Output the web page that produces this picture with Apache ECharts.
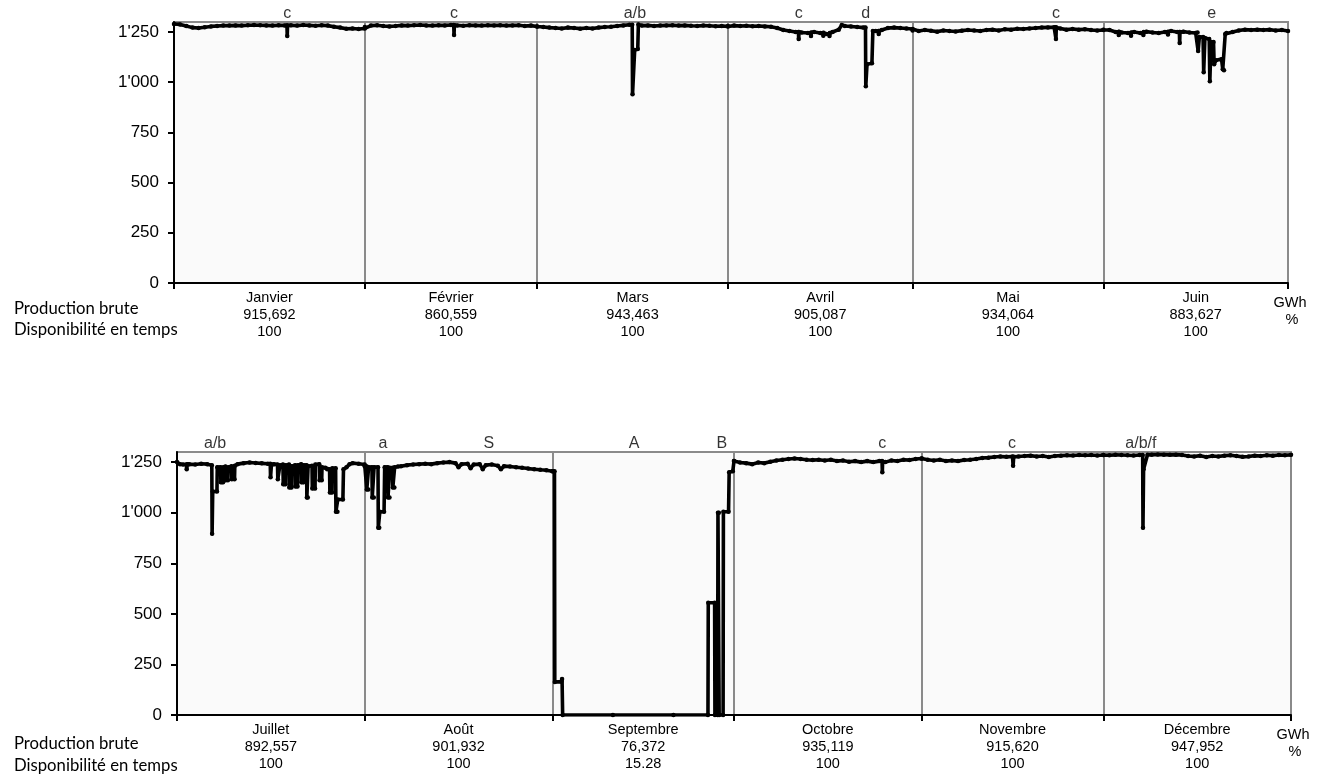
<!DOCTYPE html>
<html>
<head>
<meta charset="utf-8">
<script src="https://cdn.jsdelivr.net/npm/echarts@6/dist/echarts.min.js"></script>
<style>
html,body{margin:0;padding:0;background:#fff;}
#chart{width:1322px;height:776px;}
</style>
</head>
<body>
<div id="chart"></div>
<script>
// ---------- DATA ----------
const monthsTop = ['Janvier','Février','Mars','Avril','Mai','Juin'];
const monthsBottom = ['Juillet','Août','Septembre','Octobre','Novembre','Décembre'];
const daysTop = [31,28,31,30,31,30];
const daysBottom = [31,31,30,31,30,31];
const prodTop = ['915,692','860,559','943,463','905,087','934,064','883,627'];
const prodBottom = ['892,557','901,932','76,372','935,119','915,620','947,952'];
const availTop = ['100','100','100','100','100','100'];
const availBottom = ['100','100','15.28','100','100','100'];
const yTicks = [0,250,500,750,1000,1250];

// power (MW) per month: [day of month (fractional), value]
const jan = [[0,1290],[1,1288],[2,1280],[3,1272],[4,1270],[5,1274],[6,1278],[7,1280],[8,1282],[9,1282],[10,1283],[11,1282],[12,1284],[13,1285],[14,1284],[15,1283],[16,1282],[17,1284],[18,1283],[18.35,1283],[18.4,1230],[18.45,1283],[19,1284],[20,1282],[21,1285],[22,1283],[23,1281],[24,1284],[25,1282],[26,1276],[27,1272],[28,1266],[29,1268],[30,1265],[31,1268]];
const feb = [[0,1275],[1,1282],[2,1284],[3,1280],[4,1278],[5,1280],[6,1283],[7,1282],[8,1284],[9,1285],[10,1283],[11,1282],[12,1284],[13,1283],[14,1285],[14.45,1285],[14.5,1235],[14.55,1284],[15,1283],[16,1281],[17,1284],[18,1283],[19,1282],[20,1284],[21,1283],[22,1284],[23,1282],[24,1283],[25,1284],[26,1280],[27,1282],[28,1278]];
const mar = [[0,1278],[1,1275],[2,1272],[3,1270],[4,1268],[5,1272],[6,1270],[7,1267],[8,1270],[9,1268],[10,1272],[11,1275],[12,1276],[13,1280],[14,1283],[15,1286],[15.45,1286],[15.5,940],[15.85,1160],[16.35,1165],[16.45,1288],[17,1282],[18,1283],[19,1280],[20,1282],[21,1283],[22,1284],[23,1282],[24,1283],[25,1281],[26,1280],[27,1282],[28,1281],[29,1279],[30,1280],[31,1278]];
const apr = [[0,1280],[1,1282],[2,1280],[3,1281],[4,1279],[5,1280],[6,1278],[7,1276],[8,1270],[9,1260],[10,1255],[11,1250],[11.45,1250],[11.5,1215],[11.55,1250],[12,1248],[13,1245],[13.45,1245],[13.5,1230],[13.55,1248],[14,1250],[15,1245],[15.45,1245],[15.5,1232],[15.55,1246],[16,1240],[16.45,1240],[16.5,1230],[16.55,1245],[17,1250],[18,1262],[18.5,1285],[19,1280],[20,1278],[21,1275],[22,1272],[22.35,1272],[22.4,980],[22.6,1090],[23.4,1095],[23.55,1255],[24,1255],[24.45,1255],[24.5,1240],[24.55,1255],[25,1260],[26,1270],[27,1272],[28,1270],[29,1268],[30,1265]];
const may = [[0,1258],[1,1255],[2,1260],[3,1256],[4,1252],[5,1258],[6,1255],[7,1253],[8,1257],[9,1260],[10,1258],[11,1255],[12,1260],[13,1262],[14,1258],[15,1264],[16,1262],[17,1266],[18,1265],[19,1268],[20,1270],[21,1272],[22,1273],[23,1274],[23.25,1274],[23.3,1215],[23.35,1272],[24,1268],[25,1262],[26,1265],[27,1262],[28,1264],[29,1260],[30,1258],[31,1260]];
const jun = [[0,1262],[1,1260],[2,1250],[2.45,1250],[2.5,1235],[2.55,1252],[3,1248],[4,1245],[4.45,1245],[4.5,1232],[4.55,1248],[5,1250],[6,1245],[6.45,1245],[6.5,1235],[6.55,1250],[7,1252],[8,1248],[9,1245],[10,1250],[10.45,1250],[10.5,1238],[10.55,1252],[11,1255],[12,1250],[12.35,1250],[12.4,1195],[12.45,1250],[13,1252],[14,1248],[15,1245],[15.3,1248],[15.4,1155],[15.6,1225],[16.2,1225],[16.3,1050],[16.5,1220],[17.2,1215],[17.3,1005],[17.5,1200],[17.9,1200],[18.0,1090],[18.3,1110],[19.2,1115],[19.4,1065],[19.6,1060],[19.8,1240],[20,1245],[21,1250],[22,1258],[23,1262],[24,1260],[25,1262],[26,1260],[27,1262],[28,1258],[29,1260],[30,1255]];

const jul = [[0,1250],[0.5,1240],[1,1238],[1.55,1238],[1.6,1215],[1.7,1240],[2,1240],[3,1238],[4,1242],[5,1240],[5.75,1235],[5.8,896],[5.9,1105],[6.6,1105],[6.65,1225],[7.2,1225],[7.25,1150],[7.6,1150],[7.65,1225],[8,1228],[8.05,1160],[8.4,1160],[8.45,1225],[9,1230],[9.05,1165],[9.5,1165],[9.55,1232],[10,1240],[11,1245],[12,1248],[13,1246],[14,1244],[15,1242],[15.4,1242],[15.45,1175],[15.6,1238],[16,1240],[16.6,1238],[16.65,1165],[17,1235],[17.5,1238],[17.55,1140],[17.9,1140],[17.95,1235],[18.5,1238],[18.55,1125],[18.9,1125],[18.95,1230],[19.5,1235],[19.55,1130],[19.9,1130],[19.95,1235],[20.5,1240],[20.55,1150],[20.9,1150],[20.95,1235],[21.4,1235],[21.45,1075],[21.6,1075],[21.65,1230],[22.3,1232],[22.35,1120],[22.8,1120],[22.85,1238],[23.5,1240],[23.55,1160],[23.9,1160],[23.95,1225],[24.5,1222],[24.8,1215],[25.2,1215],[25.25,1100],[25.6,1100],[25.65,1220],[26.2,1220],[26.25,1005],[26.5,1005],[26.55,1065],[27.4,1065],[27.5,1215],[28,1225],[28.5,1240],[29,1245],[30,1242],[31,1238]];
const aug = [[0,1230],[0.3,1230],[0.35,1115],[0.6,1115],[0.65,1225],[1.2,1225],[1.25,1075],[1.5,1075],[1.55,1225],[2.2,1225],[2.25,925],[2.4,925],[2.5,1005],[3.2,1005],[3.3,1225],[3.8,1225],[3.85,1075],[4.1,1075],[4.15,1222],[4.6,1222],[4.65,1125],[4.9,1125],[4.95,1225],[5.5,1228],[6,1230],[7,1235],[8,1238],[9,1240],[10,1242],[11,1240],[12,1245],[13,1248],[14,1250],[15,1245],[15.5,1225],[16,1240],[17,1242],[17.5,1220],[18,1238],[19,1240],[19.5,1215],[20,1235],[21,1238],[22,1232],[22.5,1215],[23,1230],[24,1228],[25,1225],[26,1222],[27,1218],[28,1215],[29,1212],[30,1210],[31,1205]];
const sep = [[0,1205],[0.35,1205],[0.4,163],[1.5,165],[1.6,178],[1.7,0],[10,0],[20,0],[25.7,0],[25.75,555],[26.8,555],[26.85,0],[27.3,0],[27.35,1000],[27.5,1000],[27.55,0],[28.2,0],[28.25,1005],[29.1,1005],[29.2,1200],[29.8,1205],[30,1255]];
const oct = [[0,1255],[1,1248],[2,1245],[3,1240],[4,1248],[5,1245],[6,1252],[7,1258],[8,1262],[9,1265],[10,1268],[11,1265],[12,1262],[13,1260],[14,1262],[15,1258],[16,1262],[17,1255],[18,1258],[19,1252],[20,1255],[21,1250],[22,1255],[23,1250],[24,1255],[24.45,1255],[24.5,1200],[24.55,1252],[25,1250],[26,1258],[27,1255],[28,1262],[29,1260],[30,1265],[31,1268]];
const nov = [[0,1268],[1,1262],[2,1258],[3,1262],[4,1255],[5,1258],[6,1255],[7,1260],[8,1262],[9,1265],[10,1270],[11,1272],[12,1275],[13,1278],[14,1276],[15,1278],[15.1,1232],[15.2,1276],[16,1278],[17,1280],[18,1282],[19,1278],[20,1280],[21,1275],[22,1280],[23,1282],[24,1284],[25,1283],[26,1285],[27,1284],[28,1285],[29,1283],[30,1285]];
const dec = [[0,1285],[1,1284],[2,1286],[3,1285],[4,1284],[5,1283],[6,1285],[6.5,1285],[6.55,925],[6.65,1215],[7.3,1286],[8,1287],[9,1288],[10,1287],[11,1286],[12,1287],[13,1285],[14,1280],[15,1278],[16,1282],[17,1275],[18,1280],[19,1278],[20,1282],[21,1284],[22,1280],[23,1276],[24,1278],[25,1282],[26,1280],[27,1284],[28,1282],[29,1285],[30,1284],[31,1286]];

// event annotations: position (day within half-year) and code
const annoTopDays = [18.4, 45.5, 74.9, 101.5, 112.4, 143.3, 168.6];
const annoTopLabels = ['c','c','a/b','c','d','c','e'];
const annoBottomDays = [6.3, 34.0, 51.5, 75.5, 90.0, 116.5, 137.9, 159.2];
const annoBottomLabels = ['a/b','a','S','A','B','c','c','a/b/f'];

// ---------- BUILD ----------
function cum(days){ const b=[0]; days.forEach(d=>b.push(b[b.length-1]+d)); return b; }
function buildPts(monthArrs, days){
  const b = cum(days); const out=[];
  monthArrs.forEach((arr,i)=>arr.forEach(p=>out.push([b[i]+p[0], p[1]])));
  return out;
}
function fmtY(v){ return v>=1000 ? Math.floor(v/1000)+"'"+String(v%1000).padStart(3,'0') : String(v); }
const FONT = "'Liberation Sans', Arial, sans-serif";

function mkX(gi, days, names, prod, avail){
  const b = cum(days);
  const mids = days.map((d,i)=>b[i]+d/2);
  return {
    type:'value', gridIndex:gi, min:0, max:b[b.length-1],
    axisLine:{show:true, onZero:false, lineStyle:{color:'#000', width:2}},
    axisTick:{show:true, customValues:b, length:6, lineStyle:{color:'#000', width:2}},
    splitLine:{show:true, lineStyle:{color:'#8a8a8a', width:2}},
    axisLabel:{
      customValues:mids, margin:6, interval:0,
      formatter:function(v){
        let i = 0, best = 1e9;
        mids.forEach((m,k)=>{ if(Math.abs(m-v)<best){best=Math.abs(m-v); i=k;} });
        return '{m|'+names[i]+'}\n{m|'+prod[i]+'}\n{m|'+avail[i]+'}';
      },
      rich:{m:{fontSize:14.5, lineHeight:17, fontFamily:FONT, color:'#000', align:'center'}}
    }
  };
}
function mkY(gi){
  return {
    type:'value', gridIndex:gi, min:0, max:1300,
    axisLine:{show:true, lineStyle:{color:'#000', width:2}},
    axisTick:{show:true, customValues:yTicks, length:6, lineStyle:{color:'#000', width:2}},
    axisLabel:{customValues:yTicks, formatter:fmtY, fontSize:17, fontFamily:FONT, color:'#000', margin:15},
    splitLine:{show:false}
  };
}
function mkAnno(gi, daysArr, labels){
  return {
    type:'scatter', xAxisIndex:gi, yAxisIndex:gi, symbolSize:0, silent:true, z:5,
    data: daysArr.map((d,i)=>({value:[d,1300], name:labels[i]})),
    label:{show:true, position:'top', distance:0, formatter:'{b}', fontSize:16, fontFamily:FONT, color:'#000'}
  };
}
function mkLine(gi, data){
  return {
    type:'line', xAxisIndex:gi, yAxisIndex:gi, data:data, z:4,
    showSymbol:true, symbol:'circle', symbolSize:4.5, showAllSymbol:true,
    itemStyle:{color:'#000', borderWidth:0},
    lineStyle:{color:'#000', width:3.6, cap:'round', join:'round'}
  };
}

const gridStyle = {show:true, backgroundColor:'#fafafa', borderColor:'#8a8a8a', borderWidth:2};
const sideLabel = (x,y,t)=>({type:'text', left:x, top:y, style:{text:t, fontSize:16.7, fontFamily:"Lato, 'Open Sans', sans-serif", fill:'#000'}});
const unitLabel = (x,y,t)=>({type:'text', x:x, y:y, style:{text:t, fontSize:14.5, fontFamily:FONT, fill:'#000', align:'center', verticalAlign:'middle'}});

const option = {
  animation:false,
  backgroundColor:'#fff',
  grid:[
    Object.assign({left:174, top:22, width:1114, height:261}, gridStyle),
    Object.assign({left:177, top:452, width:1114, height:263}, gridStyle)
  ],
  xAxis:[ mkX(0, daysTop, monthsTop, prodTop, availTop), mkX(1, daysBottom, monthsBottom, prodBottom, availBottom) ],
  yAxis:[ mkY(0), mkY(1) ],
  series:[
    mkLine(0, buildPts([jan,feb,mar,apr,may,jun], daysTop)),
    mkLine(1, buildPts([jul,aug,sep,oct,nov,dec], daysBottom)),
    mkAnno(0, annoTopDays, annoTopLabels),
    mkAnno(1, annoBottomDays, annoBottomLabels)
  ],
  graphic:[
    sideLabel(14, 300, 'Production brute'),
    sideLabel(14, 321, 'Disponibilité en temps'),
    sideLabel(14, 735, 'Production brute'),
    sideLabel(14, 757, 'Disponibilité en temps'),
    unitLabel(1290, 303, 'GWh'),
    unitLabel(1292, 320, '%'),
    unitLabel(1293, 735, 'GWh'),
    unitLabel(1295, 752, '%')
  ]
};
const chart = echarts.init(document.getElementById('chart'), null, {renderer:'canvas'});
chart.setOption(option);
</script>
</body>
</html>
